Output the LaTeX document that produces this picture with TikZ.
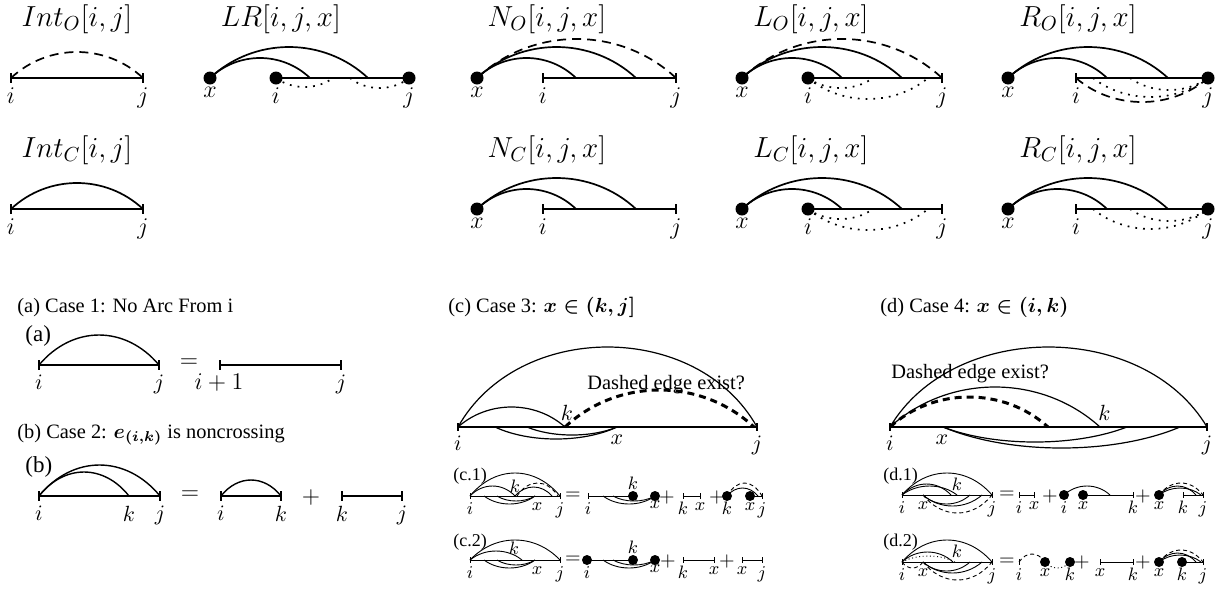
\RequirePackage{fix-cm}
\documentclass[tikz,border=0pt]{standalone}
\usepackage[no-math]{fontspec}
\setmainfont{Liberation Serif}
\newcommand\Arc[5][]{\draw[#1] (#2,#4) .. controls ({#2+0.28*(#3-#2)},{#4-1.3333*(#5)}) and ({#3-0.28*(#3-#2)},{#4-1.3333*(#5)}) .. (#3,#4);}
\newcommand\RArc[5][]{\draw[#1] (#2,#4) .. controls ({#2+0.2*(#3-#2)},{#4-1.3333*(#5)}) and ({#3-0.2*(#3-#2)},{#4-1.3333*(#5)}) .. (#3,#4);}
\newcommand\Tk[4][]{\draw[#1] (#2,{#3-#4}) -- (#2,{#3+#4});}
\newcommand\Dt[3]{\fill (#1,#2) circle[radius=#3];}
\tikzset{
 LA/.style={line width=0.85pt},
 LB/.style={line width=0.7pt},
 LC/.style={line width=0.6pt},
 LD/.style={line width=0.45pt},
 dsh/.style={dash pattern=on 4.5pt off 3pt},
 dtt/.style={dash pattern=on 0.9pt off 3pt},
 tdsh/.style={line width=1.5pt,dash pattern=on 3.5pt off 2.5pt},
 sdsh/.style={dash pattern=on 2pt off 1.5pt},
 sdtt/.style={dash pattern=on 0.5pt off 1.3pt},
 ttl/.style={inner sep=0pt,font=\fontsize{14.5}{17}\selectfont},
 lab/.style={anchor=north,inner sep=0pt,font=\fontsize{12}{14}\selectfont},
 mlab/.style={anchor=north,inner sep=0pt,font=\fontsize{11}{13}\selectfont},
 slab/.style={anchor=north,inner sep=0pt,font=\fontsize{9}{11}\selectfont},
 captxt/.style={anchor=base west,inner sep=0pt,font=\fontsize{10.2}{12}\selectfont},
 subtxt/.style={anchor=base west,inner sep=0pt,font=\fontsize{11.5}{13}\selectfont},
 ssubtxt/.style={anchor=base west,inner sep=0pt,font=\fontsize{9}{11}\selectfont},
 optxt/.style={inner sep=0pt,font=\fontsize{12}{14}\selectfont},
 soptxt/.style={inner sep=0pt,font=\fontsize{10}{12}\selectfont},
}
\begin{document}
\begin{tikzpicture}[x=0.5pt,y=-0.5pt]
\useasboundingbox (0,0) rectangle (1225,590);
% ---------------- Int_O
\node[ttl] (tIO) at (77,19) {$Int_O[i,j]$};
\draw[LA] (11,78) -- (143,78); \Tk[LA]{11}{78}{5} \Tk[LA]{143}{78}{5}
\Arc[LA,dsh]{11}{143}{78}{26}
\node[lab] (iIO) at (11,87) {$i$}; \node[lab] (jIO) at (143,87) {$j$};
% ---------------- Int_C
\node[ttl] (tIC) at (77,150) {$Int_C[i,j]$};
\draw[LA] (11,209) -- (143,209); \Tk[LA]{11}{209}{5} \Tk[LA]{143}{209}{5}
\Arc[LA]{11}{143}{209}{26}
\node[lab] (iIC) at (11,218) {$i$}; \node[lab] (jIC) at (143,218) {$j$};
% ---------------- LR
\node[ttl] (tLR) at (281,19) {$LR[i,j,x]$};
\draw[LA] (276,78) -- (409,78);
\Arc[LA]{210}{310}{78}{20} \Arc[LA]{210}{368}{78}{31}
\Arc[LA,dtt]{276}{333}{78}{-9} \Arc[LA,dtt]{350}{409}{78}{-10}
\Dt{210}{78}{3.25pt} \Dt{276}{78}{3.25pt} \Dt{409}{78}{3.25pt}
\node[lab] (xLR) at (210,87) {$x$}; \node[lab] (iLR) at (276,87) {$i$}; \node[lab] (jLR) at (409,87) {$j$};
% ---------------- N_O
\node[ttl] (tNO) at (547,19) {$N_O[i,j,x]$};
\draw[LA] (543,78) -- (676,78); \Tk[LA]{543}{78}{5} \Tk[LA]{676}{78}{5}
\Arc[LA]{477}{576}{78}{20} \Arc[LA]{477}{636}{78}{31} \Arc[LA,dsh]{477}{676}{78}{39}
\Dt{477}{78}{3.25pt}
\node[lab] (xNO) at (477,87) {$x$}; \node[lab] (iNO) at (543,87) {$i$}; \node[lab] (jNO) at (676,87) {$j$};
% ---------------- N_C
\node[ttl] (tNC) at (547,150) {$N_C[i,j,x]$};
\draw[LA] (543,209) -- (676,209); \Tk[LA]{543}{209}{5} \Tk[LA]{676}{209}{5}
\Arc[LA]{477}{576}{209}{20} \Arc[LA]{477}{636}{209}{31}
\Dt{477}{209}{3.25pt}
\node[lab] (xNC) at (477,218) {$x$}; \node[lab] (iNC) at (543,218) {$i$}; \node[lab] (jNC) at (676,218) {$j$};
% ---------------- L_O
\node[ttl] (tLO) at (811,19) {$L_O[i,j,x]$};
\draw[LA] (808,78) -- (942,78); \Tk[LA]{942}{78}{5}
\Arc[LA]{742}{842}{78}{20} \Arc[LA]{742}{902}{78}{31} \Arc[LA,dsh]{742}{942}{78}{39}
\Arc[LA,dtt]{808}{873}{78}{-10} \Arc[LA,dtt]{808}{928}{78}{-21}
\Dt{742}{78}{3.25pt} \Dt{808}{78}{3.25pt}
\node[lab] (xLO) at (742,87) {$x$}; \node[lab] (iLO) at (808,87) {$i$}; \node[lab] (jLO) at (942,87) {$j$};
% ---------------- L_C
\node[ttl] (tLC) at (811,150) {$L_C[i,j,x]$};
\draw[LA] (808,209) -- (942,209); \Tk[LA]{942}{209}{5}
\Arc[LA]{742}{842}{209}{20} \Arc[LA]{742}{902}{209}{31}
\Arc[LA,dtt]{808}{873}{209}{-10} \Arc[LA,dtt]{808}{928}{209}{-21}
\Dt{742}{209}{3.25pt} \Dt{808}{209}{3.25pt}
\node[lab] (xLC) at (742,218) {$x$}; \node[lab] (iLC) at (808,218) {$i$}; \node[lab] (jLC) at (942,218) {$j$};
% ---------------- R_O
\node[ttl] (tRO) at (1078,19) {$R_O[i,j,x]$};
\draw[LA] (1076,78) -- (1208,78); \Tk[LA]{1076}{78}{5}
\Arc[LA]{1008}{1107}{78}{20} \Arc[LA]{1008}{1168}{78}{31}
\Arc[LA,dsh]{1076}{1208}{78}{-24}
\Arc[LA,dtt]{1093}{1208}{78}{-19} \Arc[LA,dtt]{1130}{1208}{78}{-12}
\Dt{1008}{78}{3.25pt} \Dt{1208}{78}{3.25pt}
\node[lab] (xRO) at (1008,87) {$x$}; \node[lab] (iRO) at (1076,87) {$i$}; \node[lab] (jRO) at (1208,87) {$j$};
% ---------------- R_C
\node[ttl] (tRC) at (1078,150) {$R_C[i,j,x]$};
\draw[LA] (1076,209) -- (1208,209); \Tk[LA]{1076}{209}{5}
\Arc[LA]{1008}{1107}{209}{20} \Arc[LA]{1008}{1168}{209}{31}
\Arc[LA,dtt]{1093}{1208}{209}{-20} \Arc[LA,dtt]{1130}{1208}{209}{-12}
\Dt{1008}{209}{3.25pt} \Dt{1208}{209}{3.25pt}
\node[lab] (xRC) at (1008,218) {$x$}; \node[lab] (iRC) at (1076,218) {$i$}; \node[lab] (jRC) at (1208,218) {$j$};

% ================= (a)
\node[captxt] (capA) at (17,312) {(a) Case 1: No Arc From i};
\node[subtxt] (subA) at (25,341) {(a)};
\draw[LB] (39,365) -- (159,365); \Tk[LB]{39}{365}{5} \Tk[LB]{159}{365}{5}
\Arc[LB]{39}{159}{365}{30}
\node[mlab] (iA) at (39,375) {$i$}; \node[mlab] (jA) at (159,375) {$j$};
\node[optxt] (eqA) at (189,363) {$=$};
\draw[LB] (220,365) -- (341,365); \Tk[LB]{220}{365}{5} \Tk[LB]{341}{365}{5}
\node[mlab,font=\fontsize{12}{14}\selectfont] (ipA) at (219,373) {$i+1$}; \node[mlab] (jA2) at (341,375) {$j$};
% ================= (b)
\node[captxt] (capB) at (17,438) {(b) Case 2: {\boldmath$e_{(i,k)}$} is noncrossing};
\node[subtxt] (subB) at (25,472) {(b)};
\draw[LB] (39,496) -- (160,496); \Tk[LB]{39}{496}{5} \Tk[LB]{160}{496}{5}
\Arc[LB]{39}{129}{496}{24} \Arc[LB]{39}{160}{496}{31}
\node[mlab] (iB) at (39,506) {$i$}; \node[mlab] (kB) at (129,506) {$k$}; \node[mlab] (jB) at (160,506) {$j$};
\node[optxt] (eqB) at (190,495) {$=$};
\draw[LB] (221,496) -- (281,496); \Tk[LB]{221}{496}{5} \Tk[LB]{281}{496}{5}
\Arc[LB]{221}{281}{496}{16}
\node[mlab] (iB2) at (221,506) {$i$}; \node[mlab] (kB2) at (281,506) {$k$};
\node[optxt] (plB) at (311,497) {$+$};
\draw[LB] (342,496) -- (402,496); \Tk[LB]{342}{496}{5} \Tk[LB]{402}{496}{5}
\node[mlab] (kB3) at (342,506) {$k$}; \node[mlab] (jB3) at (402,506) {$j$};

% ================= (c)
\node[captxt] (capC) at (448,312) {(c) Case 3: {\boldmath$x\in(k,j]$}};
\draw[LC] (458,427) -- (757,427); \Tk[LC]{458}{427}{4} \Tk[LC]{757}{427}{4}
\RArc[LC]{458}{757}{427}{80}
\Arc[LC]{458}{565}{427}{20}
\Arc[tdsh]{565}{754}{427}{37}
\Arc[LC]{495}{617}{427}{-12} \Arc[LC]{527}{617}{427}{-8}
\node[captxt] (dC) at (587,389) {Dashed edge exist?};
\node[mlab,anchor=south] (kC) at (567,421) {$k$};
\node[mlab] (iC) at (458,436) {$i$}; \node[mlab] (xC) at (617,435) {$x$}; \node[mlab] (jC) at (757,436) {$j$};
% (c.1)
\node[ssubtxt] (c1) at (453,480) {(c.1)};
\draw[LD] (470,496) -- (560,496); \Tk[LD]{470}{496}{3} \Tk[LD]{560}{496}{3}
\Arc[LD]{470}{560}{496}{23}
\Arc[LD]{470}{515}{496}{10} \Arc[LD]{515}{552}{496}{9} \Arc[LD,sdsh]{517}{558}{496}{13}
\Arc[LD]{484}{535}{496}{-8} \Arc[LD]{497}{535}{496}{-5}
\node[slab,anchor=south] (kc1) at (515,493) {$k$};
\node[slab] (ic1) at (470,502) {$i$}; \node[slab] (xc1) at (537,502) {$x$}; \node[slab] (jc1) at (560,502) {$j$};
\node[soptxt] (eqc1) at (573,496) {$=$};
\draw[LD] (588,496) -- (633,496); \Tk[LD]{588}{496}{3}
\Arc[LD]{603}{655}{496}{-8} \Arc[LD]{613}{655}{496}{-5}
\Dt{633}{496}{2.5pt} \Dt{655}{496}{2.5pt}
\node[slab,anchor=south] (kc1b) at (633,490) {$k$};
\node[slab] (ic1b) at (588,502) {$i$}; \node[slab] (xc1b) at (655,500) {$x$};
\node[soptxt] (pc1) at (667,497) {$+$};
\draw[LD] (683,496) -- (700,496); \Tk[LD]{683}{496}{3} \Tk[LD]{700}{496}{3}
\node[slab] (kc1c) at (683,502) {$k$}; \node[slab] (xc1c) at (700,502) {$x$};
\node[soptxt] (pc1b) at (717,497) {$+$};
\draw[LD] (750,496) -- (762,496); \Tk[LD]{762}{496}{3}
\Arc[LD]{727}{758}{496}{8} \Arc[LD,sdsh]{727}{762}{496}{13}
\Dt{727}{496}{2.5pt} \Dt{750}{496}{2.5pt}
\node[slab] (kc1d) at (727,502) {$k$}; \node[slab] (xc1d) at (750,502) {$x$}; \node[slab] (jc1d) at (762,502) {$j$};
% (c.2)
\node[ssubtxt] (c2) at (453,546) {(c.2)};
\draw[LD] (470,560) -- (560,560); \Tk[LD]{470}{560}{3} \Tk[LD]{560}{560}{3}
\Arc[LD]{470}{560}{560}{20}
\Arc[LD]{470}{522}{560}{9}
\Arc[LD]{484}{535}{560}{-8} \Arc[LD]{497}{535}{560}{-5}
\node[slab,anchor=south] (kc2) at (514,555) {$k$};
\node[slab] (ic2) at (470,566) {$i$}; \node[slab] (xc2) at (537,566) {$x$}; \node[slab] (jc2) at (560,566) {$j$};
\node[soptxt] (eqc2) at (573,560) {$=$};
\draw[LD] (587,560) -- (633,560);
\Arc[LD]{603}{655}{560}{-8} \Arc[LD]{613}{655}{560}{-5}
\Dt{587}{560}{2.5pt} \Dt{633}{560}{2.5pt} \Dt{655}{560}{2.5pt}
\node[slab,anchor=south] (kc2b) at (633,554) {$k$};
\node[slab] (ic2b) at (587,566) {$i$}; \node[slab] (xc2b) at (655,564) {$x$};
\node[soptxt] (pc2) at (668,561) {$+$};
\draw[LD] (683,560) -- (714,560); \Tk[LD]{683}{560}{3} \Tk[LD]{714}{560}{3}
\node[slab] (kc2c) at (683,566) {$k$}; \node[slab] (xc2c) at (714,566) {$x$};
\node[soptxt] (pc2b) at (727,561) {$+$};
\draw[LD] (742,560) -- (762,560); \Tk[LD]{742}{560}{3} \Tk[LD]{762}{560}{3}
\node[slab] (xc2d) at (742,566) {$x$}; \node[slab] (jc2d) at (762,566) {$j$};

% ================= (d)
\node[captxt] (capD) at (880,312) {(d) Case 4: {\boldmath$x\in(i,k)$}};
\draw[LC] (890,427) -- (1207,427); \Tk[LC]{890}{427}{4} \Tk[LC]{1207}{427}{4}
\RArc[LC]{890}{1207}{427}{80}
\Arc[LC]{890}{1100}{427}{40}
\Arc[tdsh]{890}{1048}{427}{30}
\Arc[LC]{943}{1127}{427}{-15} \Arc[LC]{943}{1180}{427}{-21}
\node[captxt] (dD) at (891,378) {Dashed edge exist?};
\node[mlab,anchor=south west] (kD) at (1098,421) {$k$};
\node[mlab] (iD) at (890,436) {$i$}; \node[mlab] (xD) at (942,435) {$x$}; \node[mlab] (jD) at (1207,436) {$j$};
% (d.1)
\node[ssubtxt] (d1) at (883,480) {(d.1)};
\draw[LD] (902,495) -- (992,495); \Tk[LD]{902}{495}{3} \Tk[LD]{992}{495}{3}
\Arc[LD]{902}{992}{495}{22}
\Arc[LD]{902}{951}{495}{11} \Arc[LD]{902}{957}{495}{9}
\Arc[LD]{923}{970}{495}{-9} \Arc[LD]{923}{982}{495}{-11}
\Arc[LD,sdsh]{923}{992}{495}{-18}
\node[slab,anchor=south] (kd1) at (957,491) {$k$};
\node[slab] (id1) at (902,501) {$i$}; \node[slab] (xd1) at (923,501) {$x$}; \node[slab] (jd1) at (992,501) {$j$};
\node[soptxt] (eqd1) at (1007,495) {$=$};
\draw[LD] (1019,495) -- (1034,495); \Tk[LD]{1019}{495}{3} \Tk[LD]{1034}{495}{3}
\node[slab] (id1b) at (1019,501) {$i$}; \node[slab] (xd1b) at (1034,501) {$x$};
\node[soptxt] (pd1) at (1050,496) {$+$};
\draw[LD] (1083,495) -- (1133,495); \Tk[LD]{1133}{495}{3}
\Arc[LD]{1064}{1110}{495}{9}
\Dt{1064}{495}{2.5pt} \Dt{1083}{495}{2.5pt}
\node[slab] (id1c) at (1064,501) {$i$}; \node[slab] (xd1c) at (1083,501) {$x$}; \node[slab] (kd1c) at (1133,501) {$k$};
\node[soptxt] (pd1b) at (1143,496) {$+$};
\draw[LD] (1183,495) -- (1203,495); \Tk[LD]{1183}{495}{3} \Tk[LD]{1203}{495}{3}
\Arc[LD]{1159}{1196}{495}{9} \Arc[LD]{1159}{1201}{495}{7} \Arc[LD,sdsh]{1159}{1203}{495}{12}
\Dt{1159}{495}{2.5pt}
\node[slab] (xd1d) at (1159,501) {$x$}; \node[slab] (kd1d) at (1183,501) {$k$}; \node[slab] (jd1d) at (1203,501) {$j$};
% (d.2)
\node[ssubtxt] (d2) at (883,546) {(d.2)};
\draw[LD] (902,562) -- (992,562); \Tk[LD]{902}{562}{3} \Tk[LD]{992}{562}{3}
\Arc[LD]{902}{992}{562}{22}
\Arc[LD]{902}{953}{562}{10} \Arc[LD,sdtt]{902}{955}{562}{6}
\Arc[LD]{923}{970}{562}{-9} \Arc[LD]{923}{982}{562}{-11}
\Arc[LD,sdsh]{923}{992}{562}{-18} \Arc[LD,sdsh]{902}{923}{562}{-6}
\node[slab,anchor=south] (kd2) at (957,558) {$k$};
\node[slab] (id2) at (902,568) {$i$}; \node[slab] (xd2) at (923,568) {$x$}; \node[slab] (jd2) at (992,568) {$j$};
\node[soptxt] (eqd2) at (1007,562) {$=$};
\Tk[LD]{1019}{562}{3}
\Arc[LD,sdsh]{1019}{1045}{562}{8}
\Arc[LD,sdtt]{1045}{1070}{562}{-6}
\Dt{1045}{562}{2.5pt} \Dt{1070}{562}{2.5pt}
\node[slab] (id2b) at (1019,568) {$i$}; \node[slab] (xd2b) at (1045,568) {$x$}; \node[slab] (kd2b) at (1070,568) {$k$};
\node[soptxt] (pd2) at (1082,562) {$+$};
\draw[LD] (1100,562) -- (1133,562); \Tk[LD]{1100}{562}{3} \Tk[LD]{1133}{562}{3}
\node[slab] (xd2c) at (1100,568) {$x$}; \node[slab] (kd2c) at (1133,568) {$k$};
\node[soptxt] (pd2b) at (1143,562) {$+$};
\draw[LD] (1182,562) -- (1203,562); \Tk[LD]{1203}{562}{3}
\Arc[LD]{1159}{1196}{562}{9} \Arc[LD]{1159}{1201}{562}{7} \Arc[LD,sdsh]{1159}{1203}{562}{12}
\Dt{1159}{562}{2.5pt} \Dt{1182}{562}{2.5pt}
\node[slab] (xd2d) at (1159,568) {$x$}; \node[slab] (kd2d) at (1182,568) {$k$}; \node[slab] (jd2d) at (1203,568) {$j$};
\end{tikzpicture}
\end{document}
